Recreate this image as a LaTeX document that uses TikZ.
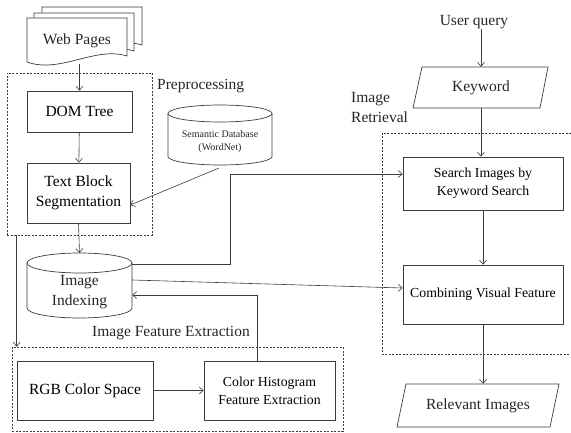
\documentclass[tikz,border=0pt]{standalone}
\usepackage{fontspec}
\setmainfont{Liberation Serif}
\usetikzlibrary{arrows.meta}
\definecolor{ln}{RGB}{60,60,60}
\begin{document}
\begin{tikzpicture}[x=1pt,y=-1pt,
  big/.style={font=\fontsize{15.5}{20}\selectfont},
  med/.style={font=\fontsize{13.8}{18}\selectfont},
  sml/.style={font=\fontsize{10}{13}\selectfont},
  box/.style={draw=ln, line width=0.7pt, fill=white, inner sep=0pt, align=center},
  shp/.style={draw=ln, line width=0.7pt, fill=white},
  txt/.style={inner sep=0pt, align=center, text=black!85},
  arr/.style={draw=ln, line width=0.6pt, -{Straight Barb[length=4pt,width=7pt]}},
  grp/.style={draw=ln, line width=0.6pt, dash pattern=on 2pt off 1.5pt},
]
\useasboundingbox (0,0) rectangle (571,433);

% ---- Web pages (stack of documents)
\foreach \dx/\dy in {15/-11, 7/-5, 0/0}{
  \draw[shp, shift={(\dx,\dy)}] (27,62) -- (27,18) -- (127,18) -- (127,56)
     .. controls (95,46) and (60,74) .. (27,62) -- cycle;
}
\node[txt, big, minimum width=100pt, minimum height=46pt] (web) at (77,41) {Web Pages};

% ---- Preprocessing group
\node[grp, minimum width=145pt, minimum height=162pt, inner sep=0pt] (pre) at (79.5,154) {};
\node[txt, big, anchor=west] (prel) at (157,86) {Preprocessing};
\node[box, big, minimum width=105pt, minimum height=41pt] (dom) at (79.5,111.5) {DOM Tree};
\node[box, big, minimum width=103pt, minimum height=60pt] (tbs) at (78.5,193) {Text Block\\Segmentation};

% ---- Semantic database cylinder
\draw[shp] (168,113.5) -- (168,156.5) .. controls (168,161.2) and (191.3,165) .. (220,165)
   .. controls (248.7,165) and (272,161.2) .. (272,156.5) -- (272,113.5);
\draw[shp] (220,113.5) ellipse [x radius=52, y radius=8.5];
\node[txt, sml] (sem) at (220,142) {Semantic Database\\(WordNet)};
\coordinate (semb) at (219,168);

% ---- Image indexing cylinder
\draw[shp] (27,263) -- (27,308) .. controls (27,313.5) and (50.5,318) .. (79.5,318)
   .. controls (108.5,318) and (132,313.5) .. (132,308) -- (132,263);
\draw[shp] (79.5,263) ellipse [x radius=52.5, y radius=10];
\node[txt, big, minimum width=105pt, minimum height=52pt] (idx) at (79.5,292) {Image\\Indexing};
\coordinate (idxtop) at (79.5,253);

% ---- Image feature extraction group
\node[grp, minimum width=331pt, minimum height=84pt, inner sep=0pt] (ife) at (177.5,389) {};
\node[txt, big] (ifel) at (171,333) {Image Feature Extraction};
\node[box, big, minimum width=136pt, minimum height=59pt] (rgb) at (85,390.5) {RGB Color Space};
\node[box, med, minimum width=131pt, minimum height=59pt] (ch) at (269.5,390.5) {Color Histogram\\Feature Extraction};

% ---- Right column
\node[txt, big] (uq) at (474,22) {User query};
\draw[shp] (422,67) -- (548,67) -- (540,108) -- (413,108) -- cycle;
\node[txt, big, minimum width=127pt, minimum height=41pt] (kw) at (481,87.5) {Keyword};
\node[txt, big, anchor=west, align=left] (irl) at (351,108) {Image\\Retrieval};
\draw[grp] (571,133) -- (382,133) -- (382,354) -- (571,354);
\node[box, med, minimum width=160pt, minimum height=53pt] (search) at (483,183.5) {Search Images by\\Keyword Search};
\node[box, med, minimum width=160pt, minimum height=59pt] (comb) at (483,294.5) {Combining Visual Feature};
\draw[shp] (406,384) -- (559,384) -- (550,427) -- (397,427) -- cycle;
\node[txt, big, minimum width=150pt, minimum height=43pt] (rel) at (478,405.5) {Relevant Images};

% ---- Connectors
\draw[arr] (web.south -| dom.north) -- (dom.north);
\draw[arr] (dom) -- (tbs);
\draw[arr] (semb) -- ([yshift=-12pt]tbs.east);
\draw[arr] (tbs.south) -- (idxtop);
\coordinate (t1) at (230,174);
\draw[arr] ([yshift=28pt]idx.east) -| (t1) -- (search.west |- t1);
\draw[arr] ([yshift=12pt]idx.east) -- ([yshift=6.5pt]comb.west);
\draw[arr] ([xshift=-12.5pt]ch.north) |- ([yshift=-3pt]idx.east);
\draw[arr] ([xshift=10pt]pre.south west) -- ([xshift=5pt]ife.north west);
\draw[arr] (rgb) -- (ch);
\draw[arr] (uq.south -| kw.north) -- (kw.north);
\draw[arr] (kw.south) -- (kw.south |- search.north);
\draw[arr] (search) -- (comb);
\draw[arr] (comb.south) -- (comb.south |- rel.north);
\end{tikzpicture}
\end{document}
